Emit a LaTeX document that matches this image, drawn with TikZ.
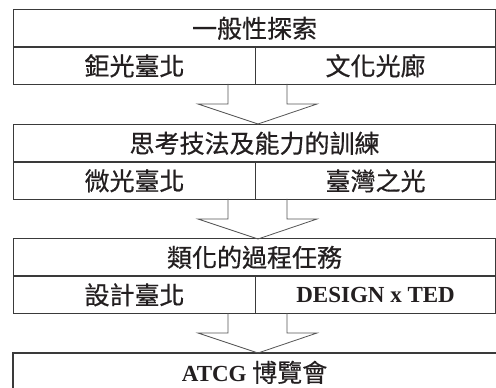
\documentclass[tikz,border=0pt]{standalone}
\usepackage{fontspec}
\setmainfont{Liberation Serif}
\newfontfamily\cjk[FakeBold=0.5]{Noto Sans CJK TC}
\definecolor{txt}{HTML}{231F20}
\definecolor{edge}{HTML}{3A3A3A}
\definecolor{arr}{HTML}{555555}
\begin{document}
\begin{tikzpicture}[x=0.75pt,y=-0.75pt,
  cell/.style={draw=edge, line width=0.85pt, inner sep=0pt, anchor=north west,
    minimum height=28.125pt, text=txt, font=\fontsize{18.75}{22}\selectfont\cjk},
  fullcell/.style={cell, minimum width=361.5pt},
  leftcell/.style={cell, minimum width=181.5pt},
  rightcell/.style={cell, minimum width=180pt},
  latin/.style={font=\fontsize{17.25}{20}\selectfont\fontspec{Liberation Serif}\bfseries},
  blockarrow/.style={draw=arr, line width=0.6pt}]
\useasboundingbox (0,0) rectangle (496,388);
\fill[white] (0,0) rectangle (496,388);

% block 1
\node[fullcell]  (t1) at (13,9)     {一般性探索};
\node[leftcell]  (l1) at (13,46.5)  {鉅光臺北};
\node[rightcell] (r1) at (255,46.5) {文化光廊};

% block 2
\node[fullcell]  (t2) at (13,124)    {思考技法及能力的訓練};
\node[leftcell]  (l2) at (13,161.5)  {微光臺北};
\node[rightcell] (r2) at (255,161.5) {臺灣之光};

% block 3
\node[fullcell]  (t3) at (13,238)    {類化的過程任務};
\node[leftcell]  (l3) at (13,275.5)  {設計臺北};
\node[rightcell, latin] (r3) at (255,275.5) {DESIGN x TED};

% block 4 (clipped at the bottom)
\node[cell, draw=none, minimum width=361.5pt] (t4) at (13,353)
  {{\fontsize{17.25}{20}\selectfont\fontspec{Liberation Serif}\bfseries ATCG} 博覽會};
\draw[draw=edge, line width=0.85pt] (t4.south west) -- (t4.north west) -- (t4.north east) -- (t4.south east);

% block arrows between the blocks
\coordinate (a1) at (257.5,84);
\coordinate (a2) at (257.5,199);
\coordinate (a3) at (257.5,313);
\foreach \c in {a1,a2,a3}{
  \draw[blockarrow] ([xshift=-29.5*0.75pt]\c) -- ++(0,20) -- ++(-30,0)
    -- ++(60,20) -- ++(59,-20) -- ++(-30,0) -- ++(0,-20);
}
\end{tikzpicture}
\end{document}
